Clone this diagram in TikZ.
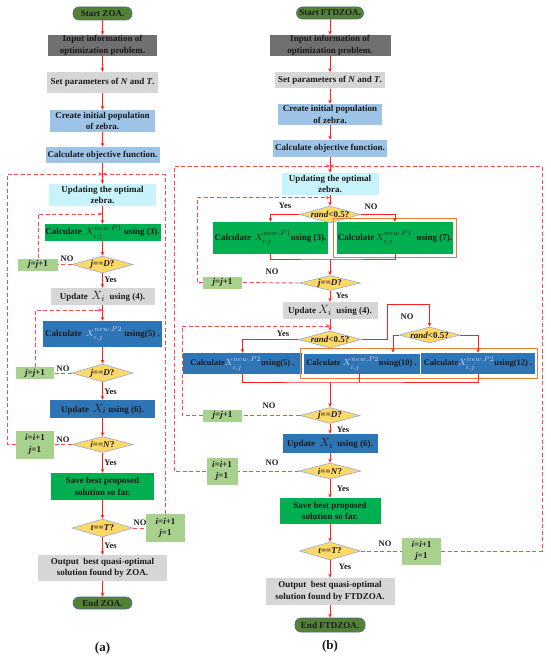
\documentclass[tikz,border=0pt]{standalone}
\usepackage{fontspec}
\setmainfont{Liberation Serif}
\usetikzlibrary{arrows.meta,shapes.geometric,fit}
\definecolor{cStart}{HTML}{548235}
\definecolor{cBorder}{HTML}{4A6A8A}
\definecolor{cDark}{HTML}{707070}
\definecolor{cLight}{HTML}{D6D6D6}
\definecolor{cBlueL}{HTML}{9DC3E6}
\definecolor{cCyan}{HTML}{C8F3FA}
\definecolor{cGreen}{HTML}{00B050}
\definecolor{cYellow}{HTML}{FFD966}
\definecolor{cDiaB}{HTML}{8FAADC}
\definecolor{cLGreen}{HTML}{A9D18E}
\definecolor{cBlue}{HTML}{2E75B6}
\definecolor{cOrange}{HTML}{ED7D31}
\definecolor{cRed}{HTML}{FF2020}
\definecolor{cDash}{HTML}{FF4A4A}
\definecolor{cLav}{HTML}{D2D2F5}
\definecolor{cTxt}{HTML}{1A1A1A}
\newcommand\mX[1]{{\fontsize{9.5}{10}\selectfont$X_{i,j}^{new,#1}$}}
\newcommand\mXi{{\fontsize{13}{13}\selectfont$X_{i}$}}
\begin{document}
\begin{tikzpicture}[x=1pt,y=-1pt,
  every node/.style={font=\bfseries\fontsize{9}{11.5}\selectfont, text=cTxt},
  box/.style={rectangle, inner sep=0pt, align=center},
  term/.style={rectangle, rounded corners=6pt, draw=cBorder, line width=0.6pt, fill=cStart, inner sep=0pt},
  dia/.style={diamond, draw=cDiaB, line width=0.6pt, fill=cYellow, inner sep=0pt},
  ar/.style={draw=cRed, line width=0.7pt, -{Stealth[length=4pt,width=3.5pt]}},
  ln/.style={draw=cRed, line width=0.7pt},
  dl/.style={draw=cDash, line width=0.9pt, dash pattern=on 4pt off 2.5pt},
  da/.style={draw=cDash, line width=0.9pt, dash pattern=on 4pt off 2.5pt, -{Stealth[length=4pt,width=3.5pt]}},
  lab/.style={font=\bfseries\fontsize{8.5}{10}\selectfont, inner sep=0pt},
  orb/.style={draw=cOrange, line width=1.4pt, inner sep=0pt},
  row/.style={font=\bfseries\fontsize{8.5}{10}\selectfont},
]
\useasboundingbox (0,0) rectangle (550,658);
% ================= (a) =================
\node[term, minimum width=59pt, minimum height=13pt] (a0) at (102.5,13.5) {Start ZOA.};
\node[box, fill=cDark, minimum width=109pt, minimum height=21pt] (a1) at (102.5,45.5) {Input information of\\optimization problem.};
\node[box, fill=cLight, minimum width=111pt, minimum height=21pt] (a2) at (102.5,82.5) {Set parameters of \textit{N} and \textit{T}.};
\node[box, fill=cBlueL, minimum width=105pt, minimum height=22pt] (a3) at (102.5,121) {Create initial population\\of zebra.};
\node[box, fill=cBlueL, minimum width=114pt, minimum height=16pt] (a4) at (102.5,155) {Calculate objective function.};
\node[box, fill=cCyan, minimum width=107pt, minimum height=22pt] (a5) at (102.5,195) {Updating the optimal\\zebra.};
\node[box, fill=cGreen, minimum width=116pt, minimum height=17pt] (a6) at (102.5,232.5) {Calculate \,\mX{P1} using (3).};
\node[dia, minimum width=61pt, minimum height=17pt, label=center:{\textit{j}==\textit{D}?}] (a7) at (102.5,264.5) {};
\node[box, fill=cLGreen, minimum width=40pt, minimum height=12pt] (a7b) at (38,264.5) {\textit{j}=\textit{j}+1};
\node[box, fill=cLight, minimum width=104pt, minimum height=17pt] (a8) at (102.5,296.5) {Update \,\mXi\ \ using (4).};
\node[box, fill=cBlue, minimum width=119pt, minimum height=26pt] (a9) at (102.5,334) {Calculate \ \textcolor{cLav}{\mX{P2}} using(5) .};
\node[dia, minimum width=61pt, minimum height=18pt, label=center:{\textit{j}==\textit{D}?}] (a10) at (102.5,373) {};
\node[box, fill=cLGreen, minimum width=38pt, minimum height=12pt] (a10b) at (35,373) {\textit{j}=\textit{j}+1};
\node[box, fill=cBlue, minimum width=105pt, minimum height=18pt] (a11) at (102.5,409) {Update \,\mXi\ using (6).};
\node[dia, minimum width=61pt, minimum height=16pt, label=center:{\textit{i}==\textit{N}?}] (a12) at (102.5,444.5) {};
\node[box, fill=cLGreen, minimum width=38pt, minimum height=28pt] (a12b) at (35,444.5) {\textit{i}=\textit{i}+1\\\textit{j}=1};
\node[box, fill=cGreen, minimum width=103pt, minimum height=27pt] (a13) at (102.5,486.5) {Save best proposed\\solution so far.};
\node[dia, minimum width=61pt, minimum height=18pt, label=center:{\textit{t}==\textit{T}?}] (a14) at (102.5,528) {};
\node[box, fill=cLGreen, minimum width=39pt, minimum height=28pt] (a14b) at (165.5,528) {\textit{i}=\textit{i}+1\\\textit{j}=1};
\node[box, fill=cLight, minimum width=129pt, minimum height=26pt] (a15) at (102.5,568) {Output \ best quasi-optimal\\solution found by ZOA.};
\node[term, minimum width=59pt, minimum height=12pt] (a16) at (102.5,603) {End ZOA.};
\node[font=\bfseries\fontsize{13}{15}\selectfont] (la) at (102.5,648) {(a)};

\foreach \p/\q in {a0/a1,a1/a2,a2/a3,a3/a4,a4/a5,a5/a6,a6/a7,a7/a8,a8/a9,a9/a10,a10/a11,a11/a12,a12/a13,a13/a14,a14/a15,a15/a16}
  \draw[ar] (\p.south) -- (\q.north);

\coordinate (aJ) at (102.5,174);
\coordinate (aL) at (7.5,174);
\coordinate (aR) at (165.5,174);
\coordinate (aI1) at (38,214);
\coordinate (aI1e) at (102.5,214);
\coordinate (aI2) at (35,310);
\coordinate (aI2e) at (102.5,310);
\draw[dl] (a7.west) -- (a7b.east);
\draw[da] (a7b.north) -- (aI1) -- (aI1e);
\draw[dl] (a10.west) -- (a10b.east);
\draw[da] (a10b.north) -- (aI2) -- (aI2e);
\draw[dl] (a12.west) -- (a12b.east);
\draw[dl] (a12b.west) -| (aL);
\draw[da] (aL) -- (aJ);
\draw[dl] (a14.east) -- (a14b.west);
\draw[dl] (a14b.north) -- (aR);
\draw[da] (aR) -- (aJ);

\node[lab] (an1) at (67,258.5) {NO};
\node[lab] (an2) at (63,369) {NO};
\node[lab] (an3) at (63,439.5) {NO};
\node[lab] (an4) at (140,523) {NO};
\node[lab] (ay1) at (110.5,279.5) {Yes};
\node[lab] (ay2) at (110.5,392) {Yes};
\node[lab] (ay3) at (110.5,463) {Yes};
\node[lab] (ay4) at (110.5,546) {Yes};

% ================= (b) =================
\node[term, minimum width=67pt, minimum height=12pt] (b0) at (330,13) {Start FTDZOA.};
\node[box, fill=cDark, minimum width=121pt, minimum height=21pt] (b1) at (330,45.5) {Input information of\\optimization problem.};
\node[box, fill=cLight, minimum width=110pt, minimum height=16pt] (b2) at (330,80.5) {Set parameters of \textit{N} and \textit{T}.};
\node[box, fill=cBlueL, minimum width=104pt, minimum height=21pt] (b3) at (330,114.5) {Create initial population\\of zebra.};
\node[box, fill=cBlueL, minimum width=114pt, minimum height=17pt] (b4) at (330,148.5) {Calculate objective function.};
\node[box, fill=cCyan, minimum width=97pt, minimum height=22pt] (b5) at (330,184) {Updating the optimal\\zebra.};
\node[dia, minimum width=61pt, minimum height=17pt, label=center:{\textit{rand}<0.5?}] (b6) at (330,214.5) {};
\node[box, fill=cGreen, minimum width=115pt, minimum height=32pt] (b7L) at (270.5,238) {Calculate \,\mX{P1}using (3).};
\node[box, fill=cGreen, minimum width=116pt, minimum height=32pt] (b7R) at (395,238) {Calculate\,\mX{P1}\ \ using (7).};
\node[orb, inner sep=3.5pt, fit=(b7R)] (o1) {};
\node[dia, minimum width=61pt, minimum height=15pt, label=center:{\textit{j}==\textit{D}?}] (b8) at (330,283) {};
\node[box, fill=cLGreen, minimum width=39pt, minimum height=12pt] (b8b) at (222.5,282.5) {\textit{j}=\textit{j}+1};
\node[box, fill=cLight, minimum width=95pt, minimum height=17pt] (b9) at (330,310.5) {Update \mXi\ \ using (4).};
\node[dia, minimum width=63pt, minimum height=17pt, label=center:{\textit{rand}<0.5?}] (b10) at (330,339.5) {};
\node[dia, minimum width=61pt, minimum height=16pt, label=center:{\textit{rand}<0.5?}] (b11) at (429.5,335) {};
\node[box, row, fill=cBlue, minimum width=119pt, minimum height=21pt] (b12A) at (242.5,363.5) {Calculate\textcolor{cLav}{\mX{P2}}using(5) .};
\node[box, row, fill=cBlue, draw=white, line width=0.5pt, minimum width=117pt, minimum height=21pt] (b12B) at (361.5,363.5) {Calculate \textcolor{cLav}{\mX{P2}}using(10) .};
\node[box, row, fill=cBlue, minimum width=114pt, minimum height=21pt] (b12C) at (478,363.5) {Calculate\textcolor{cLav}{\mX{P2}}using(12) .};
\node[orb, inner xsep=2pt, inner ysep=4pt, fit=(b12B)(b12C)] (o2) {};
\node[dia, minimum width=60pt, minimum height=16pt, label=center:{\textit{j}==\textit{D}?}] (b13) at (330,415.5) {};
\node[box, fill=cLGreen, minimum width=39pt, minimum height=12pt] (b13b) at (222.5,415.5) {\textit{j}=\textit{j}+1};
\node[box, fill=cBlue, minimum width=95pt, minimum height=19pt] (b14) at (330,443.5) {Update \ \mXi\ \ using (6).};
\node[dia, minimum width=62pt, minimum height=16pt, label=center:{\textit{i}==\textit{N}?}] (b15) at (330,471) {};
\node[box, fill=cLGreen, minimum width=31pt, minimum height=27pt] (b15b) at (222,471) {\textit{i}=\textit{i}+1\\\textit{j}=1};
\node[box, fill=cGreen, minimum width=101pt, minimum height=26pt] (b16) at (330,511) {Save best proposed\\solution so far.};
\node[dia, minimum width=61pt, minimum height=18pt, label=center:{\textit{t}==\textit{T}?}] (b17) at (330,551) {};
\node[box, fill=cLGreen, minimum width=39pt, minimum height=27pt] (b17b) at (421.5,551) {\textit{i}=\textit{i}+1\\\textit{j}=1};
\node[box, fill=cLight, minimum width=129pt, minimum height=27pt] (b18) at (330,591.5) {Output \ best quasi-optimal\\solution found by FTDZOA.};
\node[term, minimum width=70pt, minimum height=14pt] (b19) at (330,625) {End FTDZOA.};
\node[font=\bfseries\fontsize{13}{15}\selectfont] (lb) at (330,646) {(b)};

\foreach \p/\q in {b0/b1,b1/b2,b2/b3,b3/b4,b4/b5,b5/b6,b8/b9,b9/b10,b13/b14,b14/b15,b15/b16,b16/b17,b17/b18,b18/b19}
  \draw[ar] (\p.south) -- (\q.north);

\draw[ar] (b6.west) -| (b7L.north);
\draw[ar] (b6.east) -| (b7R.north);
\coordinate (bm1) at (330,259);
\draw[ln] (b7L.south) |- (bm1) -| (b7R.south);
\draw[ar] (bm1) -- (b8.north);

\draw[ar] (b10.west) -| (b12A.north);
\coordinate (bk1) at (387,304);
\draw[ar] (b10.east) -| (bk1) -| (b11.north);
\coordinate (bk2) at (393,335);
\draw[ar] (b11.west) -- (bk2) -- (bk2 |- b12B.north);
\draw[ar] (b11.east) -| (b12C.north);
\coordinate (bm2) at (330,382);
\draw[ln] (b12A.south) |- (bm2) -| (b12C.south);
\coordinate (bk3) at (359,382);
\draw[ln] (bk3 |- b12B.south) -- (bk3);
\draw[ar] (bm2) -- (b13.north);

\coordinate (bJ) at (330,166);
\coordinate (bL) at (174,166);
\coordinate (bR) at (542,166);
\coordinate (bI1) at (197,197.5);
\coordinate (bI1e) at (330,197.5);
\coordinate (bI2) at (182,326);
\coordinate (bI2e) at (330,326);
\draw[dl] (b8.west) -- (b8b.east);
\draw[da] (b8b.west) -| (bI1) -- (bI1e);
\draw[dl] (b13.west) -- (b13b.east);
\draw[da] (b13b.west) -| (bI2) -- (bI2e);
\draw[dl] (b15.west) -- (b15b.east);
\draw[da] (b15b.west) -| (bL) -- (bJ);
\draw[dl] (b17.east) -- (b17b.west);
\draw[da] (b17b.east) -| (bR) -- (bJ);

\node[lab] (by0) at (285,206) {Yes};
\node[lab] (bn0) at (371,207) {NO};
\node[lab] (bn1) at (272,272) {NO};
\node[lab] (by1) at (342,296) {Yes};
\node[lab] (by2) at (283,334) {Yes};
\node[lab] (bn2) at (407,317) {NO};
\node[lab] (bn3) at (269,406) {NO};
\node[lab] (by3) at (343,430) {Yes};
\node[lab] (bn4) at (272,463) {NO};
\node[lab] (by4) at (343,489) {Yes};
\node[lab] (bn5) at (385,544) {NO};
\node[lab] (by5) at (345,567) {Yes};
\end{tikzpicture}
\end{document}
